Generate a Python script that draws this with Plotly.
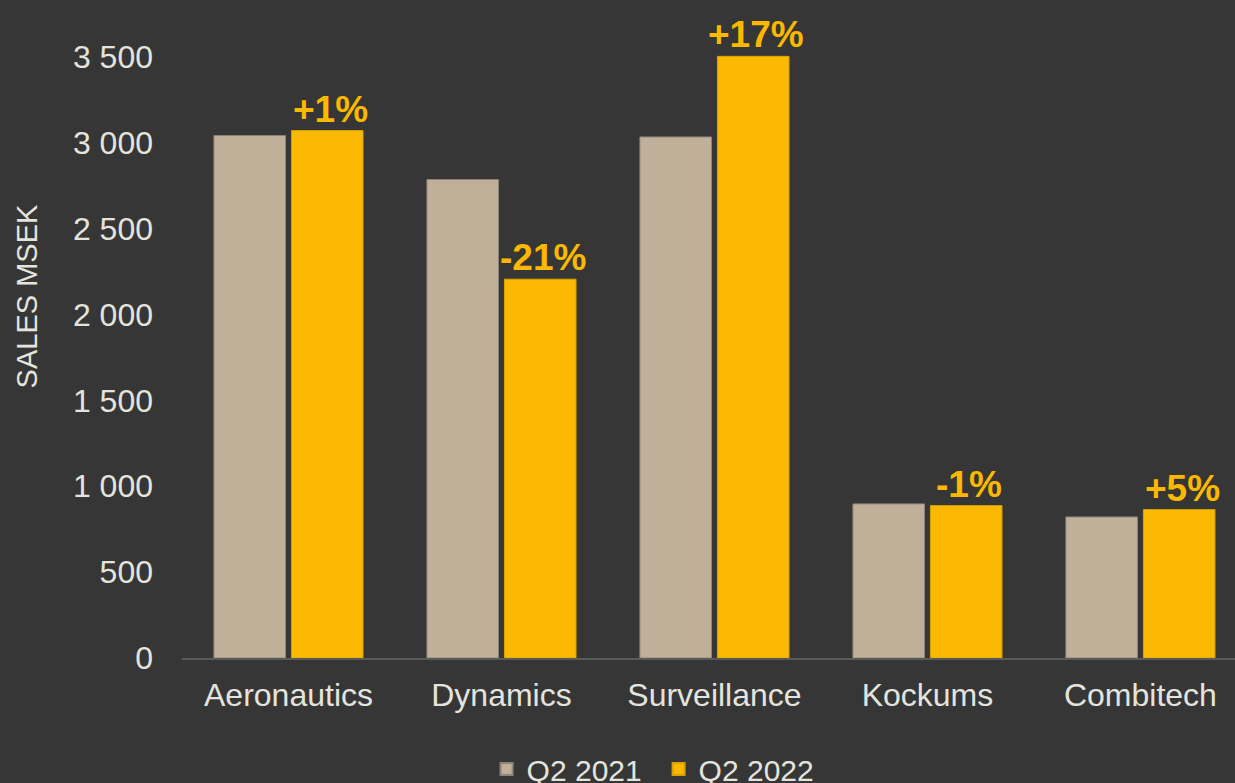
import plotly.graph_objects as go

categories = ["Aeronautics", "Dynamics", "Surveillance", "Kockums", "Combitech"]
q2_2021 = [3041, 2785, 3033, 897, 821]
q2_2022 = [3070, 2205, 3502, 887, 864]
change_labels = ["+1%", "-21%", "+17%", "-1%", "+5%"]
series_names = ["Q2 2021", "Q2 2022"]

BG = "#363636"
TXT = "#E4E4DE"
TAN = "#C0B09A"
YEL = "#FAB900"
FONT = "Liberation Sans, Arial"

BARGAP = 0.272
W, H = 1235, 783
ML, MR, MT, MB = 182, 0, 55, 125
XRANGE = [-0.5, 4.444]
YRANGE = [0, 3510]

fig = go.Figure()
fig.add_trace(go.Bar(
    x=categories, y=q2_2021, name=series_names[0],
    marker=dict(color=TAN, line=dict(color="#8E857A", width=1)),
))
fig.add_trace(go.Bar(
    x=categories, y=q2_2022, name=series_names[1],
    marker=dict(color=YEL, line=dict(color="#D9A200", width=1)),
))

# pixel width of one category -> offset of the second bar's centre
cat_px = (W - ML - MR) / (XRANGE[1] - XRANGE[0])
half_slot = (1 - BARGAP) * cat_px / 4

for cat, val, lab in zip(categories, q2_2022, change_labels):
    fig.add_annotation(
        x=cat, y=val, text=lab, showarrow=False,
        xanchor="center", yanchor="bottom", xshift=half_slot + 3, yshift=-1,
        font=dict(family=FONT, size=37, color=YEL, weight="bold"),
    )

fig.add_annotation(
    text="SALES MSEK", textangle=-90, showarrow=False,
    xref="paper", yref="paper", x=-0.147, y=0.60, xanchor="center", yanchor="middle",
    font=dict(family=FONT, size=29, color=TXT),
)

fig.update_layout(
    width=W, height=H,
    paper_bgcolor=BG, plot_bgcolor=BG,
    font=dict(family=FONT, color=TXT, size=32),
    margin=dict(l=ML, r=MR, t=MT, b=MB, autoexpand=False),
    barmode="group", bargap=BARGAP, bargroupgap=0.077,
    separators=". ",
    showlegend=True,
    legend=dict(orientation="h", xref="container", yref="container",
                x=0.394, xanchor="left", y=0.018, yanchor="middle",
                font=dict(size=30, color=TXT), bgcolor="rgba(0,0,0,0)",
                itemsizing="constant", entrywidth=127),
    xaxis=dict(range=XRANGE, showgrid=False, showline=True,
               linecolor="#5A5A57", linewidth=2, ticks="", tickfont=dict(size=32),
               ticklabelstandoff=8),
    yaxis=dict(range=YRANGE, tickvals=[0, 500, 1000, 1500, 2000, 2500, 3000, 3500],
               showgrid=False, zeroline=False,
               showline=False, ticks="", separatethousands=True,
               tickfont=dict(size=32), ticklabelstandoff=28),
)

fig.write_html("out.html", config={"displayModeBar": False},
               post_script="document.body.style.margin='0';document.body.style.overflow='hidden';")
